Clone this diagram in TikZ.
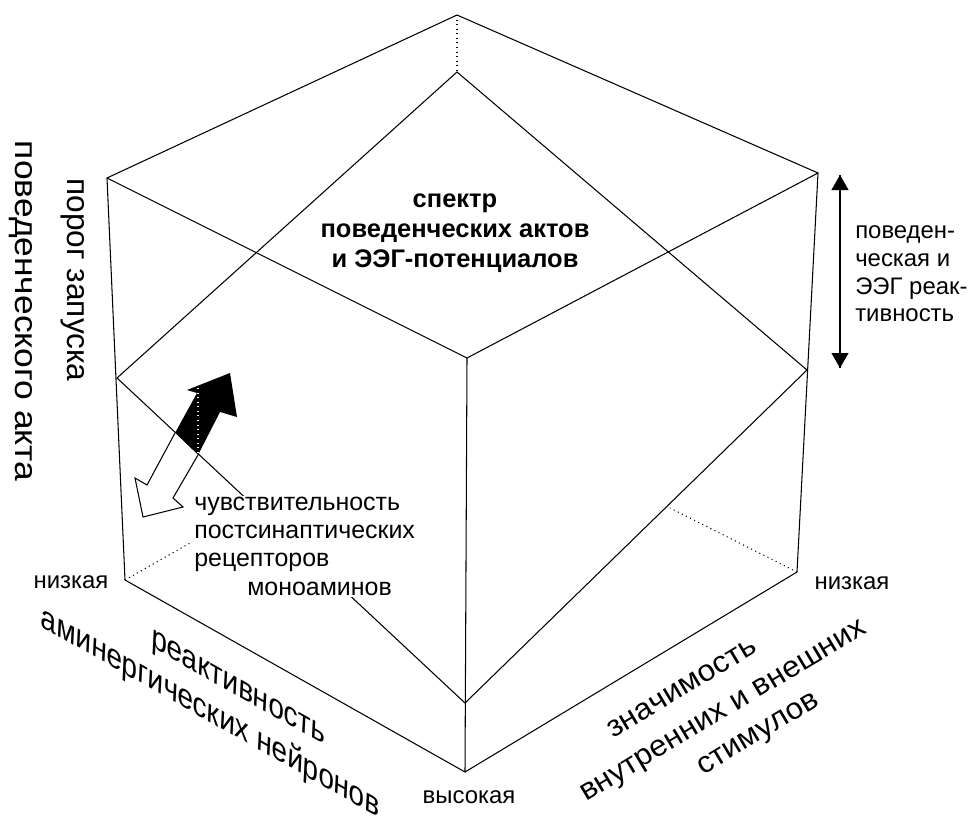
\documentclass[tikz,border=0pt]{standalone}
\usepackage{fontspec}
\setmainfont{Liberation Sans}
\usepackage{tikz}
\usetikzlibrary{arrows.meta}

\begin{document}
\begin{tikzpicture}[x=0.02cm,y=-0.02cm,line width=0.6pt,
  small/.style={font=\fontsize{13.6}{15.8}\selectfont,inner sep=1pt},
  bigbold/.style={font=\bfseries\fontsize{14.5}{17}\selectfont,align=center},
  axis/.style={font=\fontsize{18}{21}\selectfont,inner sep=0pt},
  floor/.style={font=\fontsize{17}{20}\selectfont,inner sep=0pt,anchor=base},
  hidden/.style={dotted},
  tip/.style={-{Triangle[length=0.3cm,width=0.34cm]}}]
\useasboundingbox (0,0) rectangle (977,825);

\coordinate (tb) at (457,15);
\coordinate (tl) at (107,178);
\coordinate (tf) at (467,358);
\coordinate (tr) at (818,173);
\coordinate (bl) at (125,580);
\coordinate (bf) at (465,772);
\coordinate (br) at (797,572);
\coordinate (pb) at (457,72);
\coordinate (pl) at (117,378);
\coordinate (pf) at (465,703);
\coordinate (pr) at (807,370);
\coordinate (hl) at (190,543);
\coordinate (hr) at (670,508);

\draw (tb) -- (tl) -- (tf) -- (tr) -- cycle;
\draw (tl) -- (bl) -- (bf) -- (br) -- (tr);
\draw (tf) -- (bf);
\draw (pb) -- (pl) -- (pf) -- (pr) -- cycle;
\draw[hidden] (tb) -- (pb);
\draw[hidden] (bl) -- (hl);
\draw[hidden] (br) -- (hr);

\fill (175,433) -- (197,393) -- (187,390) -- (230,373) -- (237,417) -- (220,412) -- (198,455) -- cycle;
\draw[fill=white] (175,433) -- (147,485) -- (135,478) -- (143,517) -- (183,507) -- (173,498) -- (198,455);
\draw[white,hidden] (198,388) -- (198,452);

\node[small,font=\fontsize{14.2}{16}\selectfont,fill=white,align=left,anchor=north west] (sens) at (192,495)
  {чувствительность\\постсинаптических\\рецепторов\\\hspace*{1.06cm}моноаминов};

\node[bigbold] (spectr) at (455,233) {спектр\\поведенческих актов\\и ЭЭГ-потенциалов};

\coordinate (up) at (840,175);
\coordinate (dn) at (840,368);
\draw[tip] (up) -- (dn);
\draw[tip] (dn) -- (up);
\node[small,align=left,anchor=west] (react) at (853,274) {поведен-\\ческая и\\ЭЭГ реак-\\тивность};

\node[small] (lowl) at (71,582) {низкая};
\node[small] (lowr) at (852,583) {низкая};
\node[small] (high) at (469,797) {высокая};

\node[axis,rotate=-90] (thr1) at (73,280) {порог запуска};
\node[axis,rotate=-90,xscale=1.12] (thr2) at (21,311) {поведенческого акта};

\node[floor,rotate=-29.5,xslant=-0.5,xscale=1.07] (amin1) at (238,696) {реактивность};
\node[floor,rotate=-29.5,xslant=-0.5,xscale=1.07] (amin2) at (210,722) {аминергических нейронов};

\node[floor,rotate=31,xscale=1.06] (sig1) at (686,695) {значимость};
\node[floor,rotate=31,xscale=1.05] (sig2) at (727,717) {внутренних и внешних};
\node[floor,rotate=31,xscale=1.05] (sig3) at (762,740) {стимулов};
\end{tikzpicture}
\end{document}
